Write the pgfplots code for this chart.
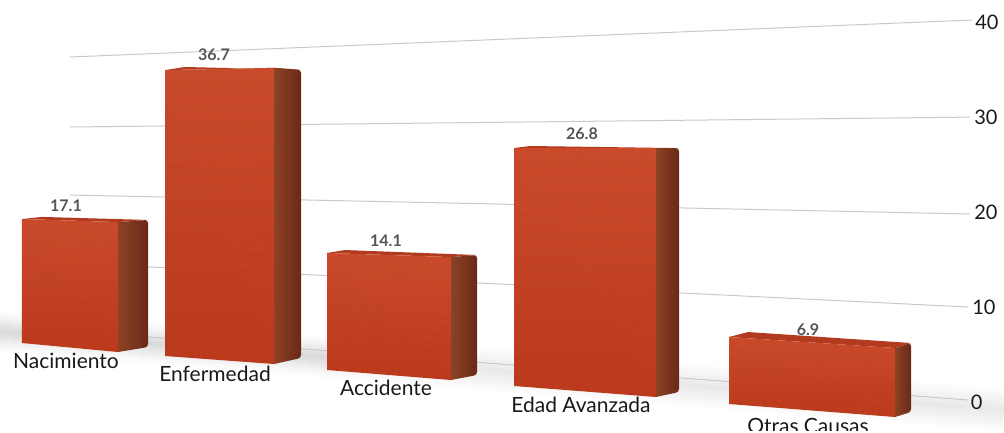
\documentclass[border=0pt]{standalone}
\usepackage{fontspec}
\setmainfont{Lato}
\usepackage{pgfplots}
\usepackage{pgfplotstable}
\pgfplotsset{compat=1.18}

\definecolor{gridc}{HTML}{C9C9C9}
\definecolor{frontTop}{HTML}{C94A2B}
\definecolor{frontMid}{HTML}{CF3D23}
\definecolor{frontBot}{HTML}{BB391C}
\definecolor{swirlA}{HTML}{EE6A42}
\definecolor{swirlB}{HTML}{8E3A1C}
\definecolor{sideL}{HTML}{8C4325}
\definecolor{sideR}{HTML}{692817}
\definecolor{topc}{HTML}{B23A1E}
\definecolor{valc}{HTML}{555555}

% every row: pixel x, pixel y of the floor there, pixels per unit there, value
% rows 0-3 front face, 4-7 side face, 8-11 top face
\pgfplotstableread{
x b k v
22 343 7.25 0
118 352 7.60 0
118 352 7.60 17.1
22 343 7.25 17.1
118 352 7.60 0
148 347 7.43 0
148 347 7.43 17.1
118 352 7.60 17.1
22 343 7.25 17.1
42 345 7.49 17.1
148 347 7.43 17.1
118 352 7.60 17.1
}\barA
\pgfplotstableread{
x b k v
165 356 7.79 0
274 364 8.07 0
274 364 8.07 36.7
165 356 7.79 36.7
274 364 8.07 0
301 358 7.85 0
301 358 7.85 36.7
274 364 8.07 36.7
165 356 7.79 36.7
185 358 7.93 36.7
301 358 7.85 36.7
274 364 8.07 36.7
}\barB
\pgfplotstableread{
x b k v
327 370 8.30 0
451 380 8.72 0
451 380 8.72 14.1
327 370 8.30 14.1
451 380 8.72 0
477 375 8.51 0
477 375 8.51 14.1
451 380 8.72 14.1
327 370 8.30 14.1
345 372 8.65 14.1
477 375 8.51 14.1
451 380 8.72 14.1
}\barC
\pgfplotstableread{
x b k v
514 386 8.88 0
656 397 9.29 0
656 397 9.29 26.8
514 386 8.88 26.8
656 397 9.29 0
679 392 9.10 0
679 392 9.10 26.8
656 397 9.29 26.8
514 386 8.88 26.8
530 388 9.03 26.8
679 392 9.10 26.8
656 397 9.29 26.8
}\barD
\pgfplotstableread{
x b k v
729 404 9.71 0
895 417 10.0 0
895 417 10.0 6.9
729 404 9.71 6.9
895 417 10.0 0
911 412 10.0 0
911 412 10.0 6.9
895 417 10.0 6.9
729 404 9.71 6.9
748 406 10.72 6.9
911 412 10.0 6.9
895 417 10.0 6.9
}\barE

% grid lines, two ends each
\pgfplotstableread{
x b k v
70 331 6.85 40
972 400 9.50 40
}\gridFour
\pgfplotstableread{
x b k v
70 331 6.80 30
970 400 9.43 30
}\gridThree
\pgfplotstableread{
x b k v
70 331 6.80 20
970 400 9.30 20
}\gridTwo
\pgfplotstableread{
x b k v
70 331 6.80 10
968 400 9.30 10
}\gridOne
\pgfplotstableread{
x b k v
70 331 6.80 0
968 400 9.30 0
}\gridZero

\pgfplotsset{table/projected/.style={x=x, y expr=\thisrow{b}-\thisrow{k}*\thisrow{v}}}
\newcommand{\gridline}[1]{\addplot[gridc, line width=1pt] table[projected] {#1};}
\newcommand{\barbox}[1]{%
  \addplot[draw=none, shade, top color=topc, bottom color=topc,
    skip coords between index={0}{8}] table[projected] {#1};
  \addplot[draw=none, shade, left color=sideL, right color=sideR, rounded corners=3pt,
    skip coords between index={0}{4}, skip coords between index={8}{12}] table[projected] {#1};
  \addplot[draw=none, shade, top color=frontTop, middle color=frontMid, bottom color=frontBot,
    skip coords between index={4}{12}] table[projected] {#1};
}
% brush strokes on a front face: xL, top at xL, bottom at xL, xR, top at xR, bottom at xR
\newcommand{\swirl}[6]{%
  \begin{scope}
    \clip (axis cs:#1,#2) -- (axis cs:#4,#5) -- (axis cs:#4,#6) -- cycle;
    \pgfplotsinvokeforeach{9,18,...,320}{
      \draw[swirlA, opacity=0.13, line width=0.6pt] (axis cs:#4,#5) circle[radius=##1pt];
    }
  \end{scope}
  \begin{scope}
    \clip (axis cs:#1,#2) -- (axis cs:#4,#6) -- (axis cs:#1,#3) -- cycle;
    \pgfplotsinvokeforeach{9,18,...,320}{
      \draw[swirlB, opacity=0.12, line width=0.6pt] (axis cs:#1,#3) circle[radius=##1pt];
    }
  \end{scope}
}

\begin{document}
\begin{tikzpicture}
\useasboundingbox (0,0) rectangle (1004pt,432pt);
\clip (0,2pt) rectangle (1004pt,432pt);
\begin{axis}[
  at={(0,0)}, anchor=south west,
  scale only axis, width=1004pt, height=432pt,
  hide axis,
  xmin=0, xmax=1004, ymin=0, ymax=432, y dir=reverse,
  clip=false,
  no markers,
]
% soft shadow on the floor, a little heavier on the left
\pgfplotsinvokeforeach{2,4,...,44}{
  \addplot[black, opacity=0.004, line width=#1pt] coordinates {(-20,330) (1004,410)};
}
\pgfplotsinvokeforeach{2,4,...,30}{
  \addplot[black, opacity=0.003, line width=#1pt] coordinates {(-20,330) (340,358)};
}

\gridline{\gridFour}
\gridline{\gridThree}
\gridline{\gridTwo}
\gridline{\gridOne}
\gridline{\gridZero}

% value labels go under the bars, 6.9 is partly hidden by its bar
\begin{scope}[every node/.style={font=\fontsize{16}{18}\selectfont\bfseries, text=valc}]
\node at (axis cs:66,206) {17.1};
\node at (axis cs:214,55) {36.7};
\node at (axis cs:386,241) {14.1};
\node at (axis cs:582,134) {26.8};
\node at (axis cs:808,330) {6.9};
\end{scope}

\barbox{\barA}
\swirl{22}{221}{343}{118}{224}{352}
\barbox{\barB}
\swirl{165}{72}{356}{274}{70}{364}
\barbox{\barC}
\swirl{327}{255}{370}{451}{259}{380}
\barbox{\barD}
\swirl{514}{150}{386}{656}{150}{397}
\barbox{\barE}
\swirl{729}{339}{404}{895}{350}{417}

\begin{scope}[every node/.style={font=\fontsize{21}{25}\selectfont, text=black!90}]
\node at (axis cs:66,361) {Nacimiento};
\node at (axis cs:215,374) {Enfermedad};
\node at (axis cs:386,388) {Accidente};
\node at (axis cs:581,405) {Edad Avanzada};
\node at (axis cs:808,426) {Otras Causas};
\end{scope}
\begin{scope}[every node/.style={font=\fontsize{20}{24}\selectfont, text=black!90, anchor=east}]
\node at (axis cs:1002,22) {40};
\node at (axis cs:1001,117) {30};
\node at (axis cs:1001,212) {20};
\node at (axis cs:999,307) {10};
\node at (axis cs:986,402) {0};
\end{scope}
\end{axis}
\end{tikzpicture}
\end{document}
